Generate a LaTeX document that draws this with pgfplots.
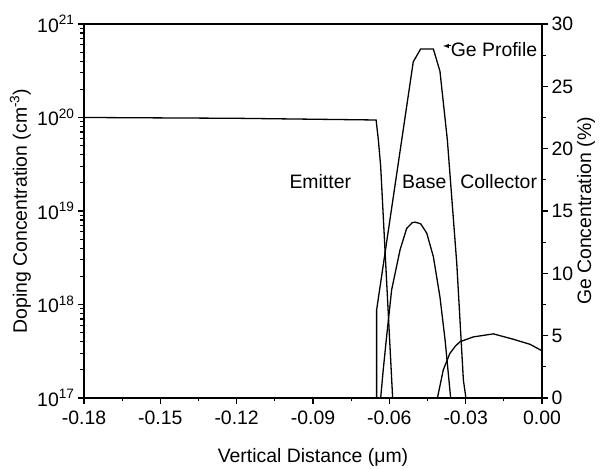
\documentclass[border=0pt]{standalone}
\usepackage{fontspec}
\setmainfont{Liberation Sans}
\usepackage{pgfplots}
\pgfplotsset{compat=1.18}
\newcommand{\tlf}{\fontsize{19.5}{21}\selectfont}
\begin{document}
\begin{tikzpicture}
\pgfplotsset{
 every axis/.append style={
  scale only axis, width=458bp, height=374bp,
  xmin=-0.18, xmax=0,
  tick align=outside,
  major tick length=6bp, minor tick length=3.5bp,
  axis line style={line width=1.2bp},
  every tick/.style={black, line width=1.1bp},
  xticklabel style={font=\tlf, yshift=-3bp},
  yticklabel style={font=\tlf},
  label style={font=\fontsize{19.5}{22}\selectfont},
 }
}
\begin{axis}[name=ax, ymode=log, ymin=1e17, ymax=1e21,
  xtick={-0.18,-0.15,-0.12,-0.09,-0.06,-0.03,0},
  xticklabels={-0.18,-0.15,-0.12,-0.09,-0.06,-0.03,0.00},
  minor x tick num=1,
  xtick pos=bottom, ytick pos=left,
  ytick={1e17,1e18,1e19,1e20,1e21},
  yticklabels={10\textsuperscript{17},10\textsuperscript{18},10\textsuperscript{19},10\textsuperscript{20},10\textsuperscript{21}},
  minor ytick={2e17,3e17,4e17,5e17,6e17,7e17,8e17,9e17,
               2e18,3e18,4e18,5e18,6e18,7e18,8e18,9e18,
               2e19,3e19,4e19,5e19,6e19,7e19,8e19,9e19,
               2e20,3e20,4e20,5e20,6e20,7e20,8e20,9e20},
  xlabel={Vertical Distance (μm)},
  ylabel={Doping Concentration (cm\textsuperscript{-3})},
  xlabel style={at={(axis description cs:0.5,-0.16)}, anchor=center},
  ylabel style={at={(axis description cs:-0.139,0.5)}, anchor=center},
  clip=false,
]
% Emitter
\addplot[black, line width=1.3bp] coordinates {
(-0.18,1e20) (-0.12,0.98e20) (-0.0652,0.94e20) (-0.0643,5.7e19) (-0.0634,3.0e19) (-0.0587,1e17)};
% Base
\addplot[black, line width=1.3bp] coordinates {
(-0.0634,1e17) (-0.0624,2.0e17) (-0.0612,4.2e17) (-0.0591,1.43e18) (-0.0558,3.83e18) (-0.0532,6.5e18) (-0.0510,7.5e18) (-0.0499,7.6e18) (-0.0477,7.3e18) (-0.0453,5.8e18) (-0.0427,3.25e18) (-0.0401,1.2e18) (-0.0381,4.2e17) (-0.0359,1e17)};
% Collector
\addplot[black, line width=1.3bp] coordinates {
(-0.0411,1e17) (-0.0388,2.0e17) (-0.0362,3.0e17) (-0.0340,3.6e17) (-0.0322,4.0e17) (-0.0270,4.5e17) (-0.0191,4.85e17) (-0.0113,4.25e17) (-0.0047,3.75e17) (0,3.2e17)};
\node[font=\fontsize{19.5}{22}\selectfont, anchor=base] at (rel axis cs:0.5159,0.5607) {Emitter};
\node[font=\fontsize{19.5}{22}\selectfont, anchor=base] at (rel axis cs:0.7428,0.5607) {Base};
\node[font=\fontsize{19.5}{22}\selectfont, anchor=base] at (rel axis cs:0.9054,0.5607) {Collector};
\node[font=\fontsize{19.5}{22}\selectfont, anchor=base] at (rel axis cs:0.8952,0.9126) {Ge Profile};
\draw[-latex, line width=1bp] (rel axis cs:0.802,0.9412) -- (rel axis cs:0.784,0.9412);
\end{axis}
\begin{axis}[ymin=0, ymax=30,
  axis x line=none, axis y line*=right,
  ytick={0,5,10,15,20,25,30},
  minor y tick num=1,
  /pgf/number format/assume math mode=true,
  ylabel={Ge Concentration (\%)},
  ylabel style={at={(axis description cs:1.096,0.5)}, anchor=center},
]
\addplot[black, line width=1.3bp] coordinates {
(-0.0650,0) (-0.0650,7.06) (-0.0506,26.97) (-0.0477,28.0) (-0.0427,28.0) (-0.0401,26.2) (-0.0372,20.7) (-0.0335,10.8) (-0.0309,1.44) (-0.0299,0)};
\end{axis}
\pgfresetboundingbox
\path ([xshift=-84bp,yshift=-70bp]ax.south west) rectangle ([xshift=60bp,yshift=24bp]ax.north east);
\end{tikzpicture}
\end{document}
